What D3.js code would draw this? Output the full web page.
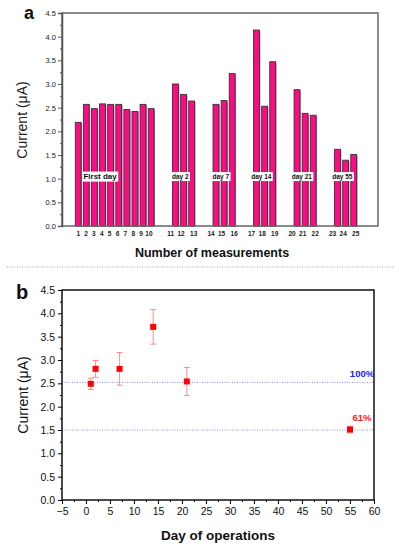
<!DOCTYPE html>
<html>
<head>
<meta charset="utf-8">
<script src="https://cdn.jsdelivr.net/npm/d3@7"></script>
<style>
  body { margin: 0; background: #fff; }
  text { font-family: Arial, "Liberation Sans", sans-serif; }
</style>
</head>
<body>
<script>
// panel a: current of each measurement, grouped by day
const dayNames = ['First day', 'day 2', 'day 7', 'day 14', 'day 21', 'day 55']
const barValues = [
  [2.19, 2.57, 2.48, 2.58, 2.57, 2.57, 2.46, 2.42, 2.57, 2.48],
  [3.00, 2.78, 2.64],
  [2.57, 2.65, 3.22],
  [4.14, 2.53, 3.47],
  [2.88, 2.38, 2.34],
  [1.62, 1.39, 1.51]
]
const yTicksA = [0, 0.5, 1.0, 1.5, 2.0, 2.5, 3.0, 3.5, 4.0, 4.5]

// panel b: mean current vs day of operation
const days = [1, 2, 7, 14, 21, 55]
const means = [2.49, 2.81, 2.81, 3.71, 2.54, 1.51]
const errs = [0.12, 0.18, 0.35, 0.37, 0.30, 0.07]
const refLevels = [2.52, 1.50]
const refLabels = ['100%', '61%']
const xTicksB = [-5, 0, 5, 10, 15, 20, 25, 30, 35, 40, 45, 50, 55, 60]
const yTicksB = [0, 0.5, 1.0, 1.5, 2.0, 2.5, 3.0, 3.5, 4.0, 4.5]

const W = 399, H = 550
const svg = d3.select('body').append('svg')
  .attr('width', W).attr('height', H)

// ---------- panel a ----------
// flatten bars, leaving two empty slots between groups
let bars = []
let groups = []
let slot = 1, num = 1
barValues.forEach((vals, gi) => {
  let start = slot
  vals.forEach((v, k) => {
    // small groups have their numbers spread a bit wider, as in the figure
    let shift = vals.length == 3 ? [-0.6, -0.3, 0.25][k] : -0.03 * k
    bars.push({pos: slot, value: v, label: num, shift})
    slot++; num++
  })
  groups.push({name: dayNames[gi], start, n: vals.length})
  slot += 2
})

const xa = d3.scaleLinear().domain([-1, slot]).range([62, 378])
const ya = d3.scaleLinear().domain([0, 4.5]).range([226, 13])
const unit = xa(1) - xa(0)
const bw = unit * 0.72

const ga = svg.append('g')

ga.selectAll('rect.shadow').data(bars).enter().append('rect')
  .attr('x', d => xa(d.pos) - bw/2 + 1)
  .attr('y', d => ya(d.value) + 1)
  .attr('width', bw).attr('height', d => ya(0) - ya(d.value))
  .attr('fill', '#999')

ga.selectAll('rect.bar').data(bars).enter().append('rect')
  .attr('x', d => xa(d.pos) - bw/2)
  .attr('y', d => ya(d.value))
  .attr('width', bw).attr('height', d => ya(0) - ya(d.value))
  .attr('fill', '#ff0a85').attr('stroke', '#333').attr('stroke-width', 0.9)

// frame
ga.append('rect')
  .attr('x', 62).attr('y', 13).attr('width', 378 - 62).attr('height', 226 - 13)
  .attr('fill', 'none').attr('stroke', '#666').attr('stroke-width', 1.5)

// y axis
const axA = ga.append('g').attr('transform', 'translate(62,0)')
  .call(d3.axisLeft(ya).tickValues(yTicksA).tickFormat(d3.format('.1f')).tickSize(4).tickPadding(2))
axA.select('.domain').attr('stroke', '#555').attr('stroke-width', 1.5)
axA.selectAll('.tick line').attr('stroke', '#555')
axA.selectAll('text').attr('font-size', 7.5).attr('fill', '#222').attr('font-family', 'Arial')
ga.append('g').attr('transform', 'translate(62,0)')
  .call(d3.axisLeft(ya).tickValues(d3.range(0.25, 4.5, 0.5)).tickSize(2).tickFormat(''))
  .call(g => g.select('.domain').remove())
  .selectAll('line').attr('stroke', '#555')

// bar number labels
ga.selectAll('text.num').data(bars).enter().append('text')
  .attr('x', d => xa(d.pos + d.shift)).attr('y', 236)
  .attr('text-anchor', 'middle')
  .attr('font-size', 6.5).attr('font-weight', 'bold').attr('fill', '#222')
  .text(d => d.label)

// group labels with white box
groups.forEach((g, i) => {
  let cx = g.n > 3 ? xa(g.start + 2.7) : xa(g.start + 0.6)
  let fs = i == 0 ? 8 : 6.5
  let t = ga.append('text')
    .attr('x', cx).attr('y', ya(1.05) + fs*0.35)
    .attr('text-anchor', 'middle')
    .attr('font-size', fs).attr('font-weight', 'bold').attr('fill', '#111')
    .text(g.name)
  let b = t.node().getBBox()
  ga.insert('rect', () => t.node())
    .attr('x', b.x - 1).attr('y', b.y - 0.5)
    .attr('width', b.width + 2).attr('height', b.height + 1)
    .attr('fill', '#fff')
})

ga.append('text')
  .attr('transform', 'translate(27,120) rotate(-90)')
  .attr('text-anchor', 'middle').attr('font-size', 14).attr('fill', '#222')
  .text('Current (μA)')
ga.append('text')
  .attr('x', 212).attr('y', 257)
  .attr('text-anchor', 'middle').attr('font-size', 12.5).attr('font-weight', 'bold').attr('fill', '#111')
  .text('Number of measurements')
ga.append('text')
  .attr('x', 24).attr('y', 19)
  .attr('font-family', '"Liberation Serif", "DejaVu Serif", serif')
  .attr('font-size', 18).attr('font-weight', 'bold').attr('fill', '#111')
  .text('a')

// separator
svg.append('line')
  .attr('x1', 7).attr('x2', 393).attr('y1', 267).attr('y2', 267)
  .attr('stroke', '#aaa').attr('stroke-dasharray', '1,1.5')

// ---------- panel b ----------
const xb = d3.scaleLinear().domain([-5, 60]).range([62, 374])
const yb = d3.scaleLinear().domain([0, 4.5]).range([500, 290])
const gb = svg.append('g')

gb.selectAll('line.ref').data(refLevels).enter().append('line')
  .attr('x1', xb(-5)).attr('x2', xb(60))
  .attr('y1', d => yb(d)).attr('y2', d => yb(d))
  .attr('stroke', '#8a8aff').attr('stroke-width', 1).attr('stroke-dasharray', '1,1.5')

gb.append('rect')
  .attr('x', 62).attr('y', 290).attr('width', 374 - 62).attr('height', 500 - 290)
  .attr('fill', 'none').attr('stroke', '#111').attr('stroke-width', 1.5)

const axBx = gb.append('g').attr('transform', 'translate(0,500)')
  .call(d3.axisBottom(xb).tickValues(xTicksB).tickSize(4).tickPadding(4))
axBx.select('.domain').remove()
axBx.selectAll('text').attr('font-size', 10.5).attr('fill', '#111').attr('font-family', 'Arial')
gb.append('g').attr('transform', 'translate(0,500)')
  .call(d3.axisBottom(xb).tickValues(d3.range(-2.5, 60, 5)).tickSize(2).tickFormat(''))
  .call(g => g.select('.domain').remove())

const axBy = gb.append('g').attr('transform', 'translate(62,0)')
  .call(d3.axisLeft(yb).tickValues(yTicksB).tickFormat(d3.format('.1f')).tickSize(4).tickPadding(3))
axBy.select('.domain').remove()
axBy.selectAll('text').attr('font-size', 10.5).attr('fill', '#111').attr('font-family', 'Arial')
gb.append('g').attr('transform', 'translate(62,0)')
  .call(d3.axisLeft(yb).tickValues(d3.range(0.25, 4.5, 0.5)).tickSize(2).tickFormat(''))
  .call(g => g.select('.domain').remove())

// error bars
const pts = days.map((d, i) => ({day: d, mean: means[i], err: errs[i]}))
const eb = gb.selectAll('g.err').data(pts).enter().append('g')
  .attr('stroke', '#ff7070').attr('stroke-width', 0.8)
eb.append('line')
  .attr('x1', d => xb(d.day)).attr('x2', d => xb(d.day))
  .attr('y1', d => yb(d.mean + d.err)).attr('y2', d => yb(d.mean - d.err))
eb.append('line')
  .attr('x1', d => xb(d.day) - 3).attr('x2', d => xb(d.day) + 3)
  .attr('y1', d => yb(d.mean + d.err)).attr('y2', d => yb(d.mean + d.err))
eb.append('line')
  .attr('x1', d => xb(d.day) - 3).attr('x2', d => xb(d.day) + 3)
  .attr('y1', d => yb(d.mean - d.err)).attr('y2', d => yb(d.mean - d.err))

gb.selectAll('rect.pt').data(pts).enter().append('rect')
  .attr('x', d => xb(d.day) - 3).attr('y', d => yb(d.mean) - 3)
  .attr('width', 6).attr('height', 6)
  .attr('fill', '#ff0000')

gb.selectAll('text.ref').data(refLevels).enter().append('text')
  .attr('x', xb(57.5)).attr('y', (d, i) => yb(d) - (i == 0 ? 5 : 9))
  .attr('text-anchor', 'middle')
  .attr('font-size', 9.5).attr('font-weight', 'bold')
  .attr('fill', (d, i) => i == 0 ? '#1a1aff' : '#ff1a1a')
  .text((d, i) => refLabels[i])

gb.append('text')
  .attr('transform', 'translate(28,395) rotate(-90)')
  .attr('text-anchor', 'middle').attr('font-size', 14).attr('fill', '#111')
  .text('Current (μA)')
gb.append('text')
  .attr('x', 218).attr('y', 540)
  .attr('text-anchor', 'middle').attr('font-size', 13.5).attr('font-weight', 'bold').attr('fill', '#111')
  .text('Day of operations')
gb.append('text')
  .attr('x', 16).attr('y', 299)
  .attr('font-family', '"Liberation Serif", "DejaVu Serif", serif')
  .attr('font-size', 20).attr('font-weight', 'bold').attr('fill', '#111')
  .text('b')
</script>
</body>
</html>
